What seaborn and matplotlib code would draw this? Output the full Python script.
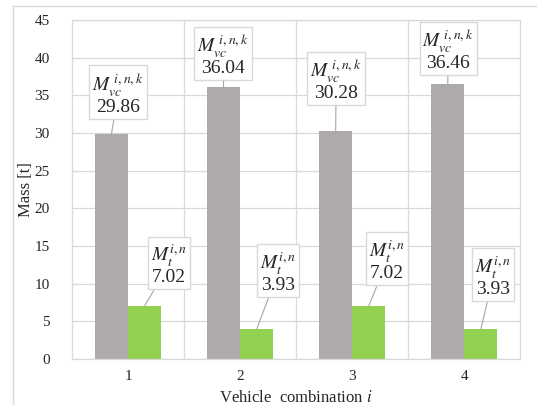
import matplotlib
matplotlib.use("Agg")
import matplotlib.pyplot as plt
import seaborn as sns
import pandas as pd
from matplotlib.lines import Line2D

# ---- data ----
combinations = ["1", "2", "3", "4"]
mass_vc = [29.86, 36.04, 30.28, 36.46]
mass_t = [7.02, 3.93, 7.02, 3.93]
series_names = ["M_vc", "M_t"]
label_vc = r"$M_{vc}^{\ i,n,k}$"
label_t = r"$M_{t}^{i,n}$"

df = pd.DataFrame({
    "comb": combinations * 2,
    "mass": mass_vc + mass_t,
    "series": [series_names[0]] * 4 + [series_names[1]] * 4,
})

sns.set_style("white")
plt.rcParams["font.family"] = ["Liberation Serif", "DejaVu Serif"]
plt.rcParams["mathtext.fontset"] = "stix"

fig = plt.figure(figsize=(5.37, 4.05), dpi=100)
ax = fig.add_axes([0.134, 0.1136, 0.835, 0.8374])

sns.barplot(data=df, x="comb", y="mass", hue="series",
            palette=["#AEAAAA", "#92D050"], saturation=1,
            width=0.59, ax=ax, legend=False, linewidth=0, edgecolor="none")

ax.set_ylim(0, 45)
ax.set_xlim(-0.5, 3.5)
ax.set_yticks(range(0, 46, 5))
ax.set_ylabel("Mass [t]", fontsize=12, labelpad=0)
ax.set_xlabel(r"Vehicle  combination $\it{i}$", fontsize=12, labelpad=5)
ax.tick_params(axis="both", length=0, labelsize=11, colors="#262626")
ax.tick_params(axis="y", pad=16)
ax.tick_params(axis="x", pad=8)

grid_c = "#D9D9D9"
ax.set_axisbelow(True)
ax.yaxis.grid(True, color=grid_c, lw=0.9)
for xv in [0.5, 1.5, 2.5]:
    ax.axvline(xv, color=grid_c, lw=0.9, zorder=0)
for s in ax.spines.values():
    s.set_color(grid_c)
    s.set_linewidth(0.9)

# label layout (data coords)
vc_pos = [(-0.089, 35.2), (0.848, 40.3), (1.857, 37.0), (2.857, 41.0)]
t_pos = [(0.366, 12.55), (1.339, 11.5), (2.3125, 13.1), (3.259, 11.0)]

bbox = dict(boxstyle="square,pad=0.15", fc="white", ec=grid_c, lw=1)
arrow = dict(arrowstyle="-", color="#A6A6A6", lw=0.8, shrinkA=0, shrinkB=0)

for cont, vals, pos, lab in [(ax.containers[0], mass_vc, vc_pos, label_vc),
                             (ax.containers[1], mass_t, t_pos, label_t)]:
    for bar, v, (tx, ty) in zip(cont, vals, pos):
        bx = bar.get_x() + bar.get_width() / 2
        ax.annotate(f"{lab}\n{v:.2f}", xy=(bx, bar.get_height()),
                    xytext=(tx, ty), textcoords="data",
                    ha="center", va="center", fontsize=14,
                    linespacing=1.0, bbox=bbox, arrowprops=arrow, zorder=5)

# outer chart frame (top and left visible)
fig.add_artist(Line2D([13 / 537, 1], [1 - 6 / 405, 1 - 6 / 405],
                      transform=fig.transFigure, color=grid_c, lw=1))
fig.add_artist(Line2D([13 / 537, 13 / 537], [0, 1 - 6 / 405],
                      transform=fig.transFigure, color=grid_c, lw=1))

fig.savefig("out.png", dpi=100)
